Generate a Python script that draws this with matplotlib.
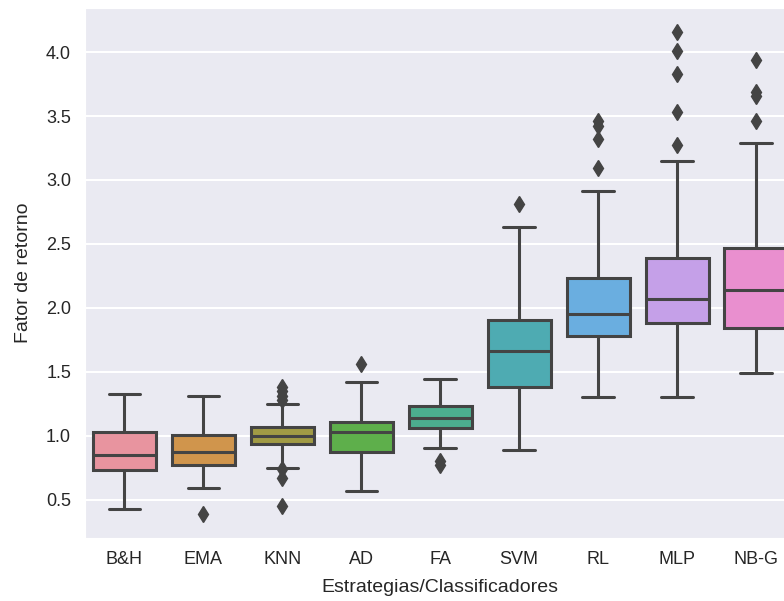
import matplotlib
matplotlib.use("Agg")
import matplotlib.pyplot as plt
import seaborn as sns

# box statistics (Fator de retorno)
categorias = ["B&H", "EMA", "KNN", "AD", "FA", "SVM", "RL", "MLP", "NB-G"]
medianas = [0.85, 0.87, 1.00, 1.03, 1.14, 1.66, 1.95, 2.07, 2.14]
q1 = [0.73, 0.77, 0.935, 0.87, 1.06, 1.38, 1.78, 1.88, 1.84]
q3 = [1.03, 1.005, 1.07, 1.11, 1.23, 1.905, 2.235, 2.39, 2.47]
bigode_inf = [0.43, 0.59, 0.75, 0.57, 0.90, 0.89, 1.30, 1.30, 1.49]
bigode_sup = [1.33, 1.31, 1.25, 1.42, 1.44, 2.63, 2.91, 3.15, 3.29]
outliers = [
    [],
    [0.39],
    [1.38, 1.35, 1.31, 1.28, 0.74, 0.67, 0.45],
    [1.56],
    [0.80, 0.77],
    [2.81],
    [3.46, 3.42, 3.32, 3.09],
    [4.16, 4.01, 3.83, 3.53, 3.27],
    [3.94, 3.69, 3.66, 3.46],
]

sns.set_style("darkgrid")
plt.rcParams["font.family"] = ["Liberation Sans", "DejaVu Sans"]

cores = ["#e8949f", "#d0954c", "#a19b45", "#5eaf4b", "#4cae8f",
         "#4eabb2", "#6aaee0", "#c5a0e8", "#e98fcf"]
cinza = "#444444"

stats = []
for i, nome in enumerate(categorias):
    stats.append({
        "label": nome,
        "med": medianas[i],
        "q1": q1[i],
        "q3": q3[i],
        "whislo": bigode_inf[i],
        "whishi": bigode_sup[i],
        "fliers": outliers[i],
    })

fig = plt.figure(figsize=(7.84, 6.01), dpi=100)
ax = fig.add_axes([85 / 784, 63 / 601, 710.5 / 784, 530 / 601])

lw = 2.2
bp = ax.bxp(stats, positions=range(len(categorias)), widths=0.8,
            patch_artist=True,
            boxprops=dict(linewidth=lw, edgecolor=cinza),
            medianprops=dict(linewidth=lw, color=cinza),
            whiskerprops=dict(linewidth=lw, color=cinza),
            capprops=dict(linewidth=lw, color=cinza),
            flierprops=dict(marker="d", markersize=8.5, markerfacecolor=cinza,
                            markeredgecolor=cinza, linestyle="none"),
            capwidths=0.4)
for patch, cor in zip(bp["boxes"], cores):
    patch.set_facecolor(cor)

ax.set_xlim(-0.5, len(categorias) - 0.5)
ax.set_ylim(0.2, 4.345)
ax.set_yticks([0.5, 1.0, 1.5, 2.0, 2.5, 3.0, 3.5, 4.0])
ax.xaxis.grid(False)
ax.yaxis.grid(True, color="white", linewidth=1.5)
ax.set_axisbelow(True)
ax.tick_params(axis="both", labelsize=13, colors="#262626", length=0)
ax.tick_params(axis="y", pad=10)
ax.tick_params(axis="x", pad=9)

ax.set_xlabel("Estrategias/Classificadores", fontsize=14, color="#262626", labelpad=8)
ax.set_ylabel("Fator de retorno", fontsize=14, color="#262626", labelpad=10)

fig.savefig("out.png", dpi=100)
